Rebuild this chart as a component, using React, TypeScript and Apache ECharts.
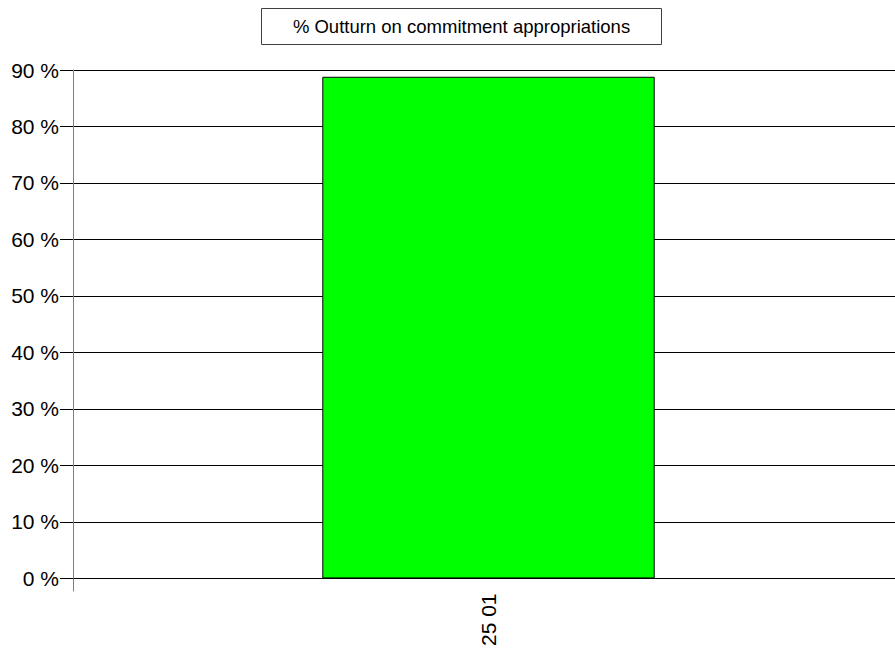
import React, { useEffect, useRef } from "react";
import * as echarts from "echarts";

const categories = ["25 01"];
const outturnValues = [88.8];
const titleText = "% Outturn on commitment appropriations";
const yMin = 0;
const yMax = 90;
const yStep = 10;

export default function App() {
  const ref = useRef<HTMLDivElement>(null);
  useEffect(() => {
    document.body.style.margin = "0";
    document.body.style.overflow = "hidden";
    const chart = echarts.init(ref.current!, null, { renderer: "svg" });
    const font = "'Liberation Sans', Arial, sans-serif";
    chart.setOption({
      animation: false,
      backgroundColor: "#ffffff",
      graphic: [
        {
          type: "rect",
          shape: { x: 261.5, y: 8.5, width: 400, height: 36 },
          style: { fill: "#ffffff", stroke: "#404040", lineWidth: 1 },
        },
        {
          type: "text",
          x: 461.5,
          y: 26.5,
          style: {
            text: titleText,
            fontSize: 18.5,
            fontFamily: font,
            fill: "#000",
            align: "center",
            verticalAlign: "middle",
          },
        },
      ],
      grid: { left: 73, right: 0, top: 70, bottom: 70, containLabel: false },
      xAxis: {
        type: "category",
        data: categories,
        boundaryGap: true,
        axisLine: { show: true, lineStyle: { color: "#000", width: 1 } },
        axisTick: { show: true, length: 13, lineStyle: { color: "#808080", width: 1 } },
        axisLabel: {
          rotate: 90,
          margin: 15,
          fontSize: 21,
          fontFamily: font,
          color: "#000",
        },
        splitLine: { show: false },
      },
      yAxis: {
        type: "value",
        min: yMin,
        max: yMax,
        interval: yStep,
        axisLine: { show: true, lineStyle: { color: "#808080", width: 1 } },
        axisTick: { show: true, length: 13, lineStyle: { color: "#000", width: 1 } },
        axisLabel: {
          formatter: "{value} %",
          margin: 14,
          fontSize: 21,
          fontFamily: font,
          color: "#000",
        },
        splitLine: { show: true, lineStyle: { color: "#000", width: 1 } },
      },
      series: [
        {
          type: "bar",
          data: outturnValues,
          barWidth: "40%",
          itemStyle: { color: "#00ff00", borderColor: "#000", borderWidth: 1 },
        },
      ],
    });
    return () => chart.dispose();
  }, []);
  return <div ref={ref} style={{ width: 904, height: 649 }} />;
}
